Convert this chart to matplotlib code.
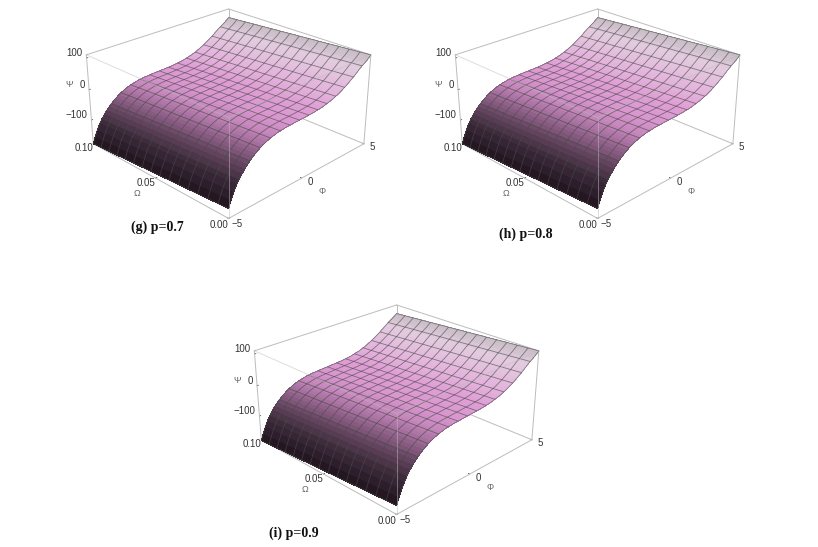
import numpy as np
import matplotlib
matplotlib.use("Agg")
import matplotlib.pyplot as plt
from matplotlib.colors import LinearSegmentedColormap, Normalize

plt.rcParams['font.family'] = ['Liberation Sans', 'DejaVu Sans']

phi = np.linspace(-5, 5, 61)
omega = np.linspace(0, 0.1, 16)
psi_g = [-150,-128,-108,-92,-79,-68,-58,-49,-41,-34,
         -28,-22,-17,-13,-9,-6,-3,-1,1,3,
         4,5,6,6.5,7,7.5,8,8,8.5,9,
         9,9.5,10,10.5,11,12,13,14,15,17,
         19,21,23,26,29,32,36,40,44,49,
         54,59,64,70,76,82,87,92,97,103,110]
psi_h = list(psi_g)
psi_i = [-153,-131,-111,-94,-80,-68,-58,-49,-41,-34,
         -28,-22,-17,-13,-9,-6,-3,-1,1,3,
         4,5,6,6.5,7,7.5,8,8.5,9,9.5,
         10,10.5,11,11.5,12,13,14,15,16,18,
         20,22,24,27,30,33,37,41,45,50,
         55,60,65,71,77,83,88,93,98,104,110]
omega_drop = [0,-2,-4,-6,-8,-10,-12,-14,-16,-18,-20,-22,-24,-26,-28,-30]
panel_titles = ['(g) p=0.7', '(h) p=0.8', '(i) p=0.9']
panel_psi = [psi_g, psi_h, psi_i]
phi_ticks = [-5, 0, 5]
omega_ticks = [0.00, 0.05, 0.10]
psi_ticks = [-100, 0, 100]
z_limits = (-180, 110)

W, H = 818, 547
# axes rectangles in pixels (left, top, width, height)
rects = [(54, -65, 340, 340), (423, -65, 340, 340), (222, 231, 340, 340)]
title_pos = [(157, 227), (526, 234), (294, 533)]

cmap = LinearSegmentedColormap.from_list('surf', [
    (0.00, '#241722'), (0.05, '#402d3e'), (0.14, '#82587c'), (0.21, '#ab73a3'),
    (0.28, '#c688bd'), (0.40, '#d996cf'), (0.60, '#df9fd5'), (0.75, '#e3b5dc'),
    (0.90, '#e3cbdf'), (1.00, '#c4bcc4')])

fig = plt.figure(figsize=(W/100, H/100), dpi=100)
edge = '#bcbcbc'
for rect, title, tpos, vals in zip(rects, panel_titles, title_pos, panel_psi):
    l, t, w, h = rect
    ax = fig.add_axes([l/W, 1-(t+h)/H, w/W, h/H], projection='3d',
                      computed_zorder=False)
    ax.patch.set_alpha(0)
    ax.set_proj_type('persp', focal_length=0.45)
    ax.view_init(elev=25, azim=-135)
    ax.set_box_aspect((1, 1, 0.5), zoom=0.84)
    X, Y = np.meshgrid(phi, omega)
    Z = np.add.outer(np.array(omega_drop, float), np.array(vals, float))
    ax.set_xlim(-5, 5); ax.set_ylim(0, 0.1); ax.set_zlim(*z_limits)
    x0, x1, y0, y1, z0, z1 = -5, 5, 0, 0.1, *z_limits
    # back edges of the box
    for a, b in [((x1,y1,z0),(x1,y1,z1)), ((x0,y1,z1),(x1,y1,z1)), ((x1,y0,z1),(x1,y1,z1)),
                 ((x0,y1,z0),(x1,y1,z0)), ((x1,y0,z0),(x1,y1,z0)),
                 ((x0,y1,z0),(x0,y1,z1)), ((x1,y0,z0),(x1,y0,z1)),
                 ((x0,y0,z0),(x1,y0,z0)), ((x0,y0,z0),(x0,y1,z0))]:
        ax.plot(*zip(a, b), color=edge, lw=0.7, zorder=1)
    fc = cmap(Normalize(-5, 5)(X))
    surf = ax.plot_surface(X, Y, Z, facecolors=fc, rstride=1, cstride=1, shade=False,
                    linewidth=0, antialiased=False, zorder=2)
    ax.plot_wireframe(X, Y, Z, rstride=1, cstride=4, color='#4a4a4a', linewidth=0.6,
                      alpha=0.65, zorder=3)
    # front edges, seen through the surface
    for a, b in [((x0,y0,z1),(x1,y0,z1)), ((x0,y0,z1),(x0,y1,z1)), ((x0,y0,z0),(x0,y0,z1))]:
        ax.plot(*zip(a, b), color=edge, lw=0.7, alpha=0.5, zorder=4)
    ax.grid(False)
    for axis in (ax.xaxis, ax.yaxis, ax.zaxis):
        axis.set_pane_color((1, 1, 1, 0))
        axis.line.set_color((1, 1, 1, 0))
        axis.set_rotate_label(False)
        axis.offsetText.set_visible(False)
        axis._axinfo['tick']['inward_factor'] = 0.0
        axis._axinfo['tick']['outward_factor'] = 0.1
        axis._axinfo['tick']['linewidth'] = {True: 0.5, False: 0.4}
        axis._axinfo['tick']['color'] = '#999999'
    ax.zaxis.label.set_visible(False)
    ax.set_xticks(phi_ticks); ax.set_yticks(omega_ticks); ax.set_zticks(psi_ticks)
    ax.set_xticklabels(['\u22125', '0', '5'])
    ax.set_yticklabels(['0.00', '0.05', '0.10'])
    ax.set_zticklabels(['\u2212100', '0', '100'])
    ax.tick_params(labelsize=7, colors='#333333', pad=-1)
    ax.tick_params(axis='y', pad=0)
    ax.tick_params(axis='z', pad=-6)
    for lab in ax.get_xticklabels() + ax.get_yticklabels() + ax.get_zticklabels():
        lab.set_va('bottom')
    for lab in ax.get_zticklabels():
        lab.set_ha('right')
    ax.set_xlabel('\u03a6', fontsize=6.5, color='#666666', labelpad=-7)
    ax.set_ylabel('\u03a9', fontsize=6.5, color='#666666', labelpad=-6)
    ax.xaxis._axinfo['label']['va'] = 'bottom'
    ax.xaxis._axinfo['label']['ha'] = 'left'
    ax.yaxis._axinfo['label']['va'] = 'bottom'
    ax.text(x0, 0.118, -15, '\u03a8', fontsize=6.5, color='#666666', ha='center', va='center')
    fig.text(tpos[0]/W, 1-tpos[1]/H, title, ha='center', va='center',
             family='Liberation Serif', fontweight='bold', fontsize=10, color='#111111')
fig.savefig('out.png', dpi=100)
